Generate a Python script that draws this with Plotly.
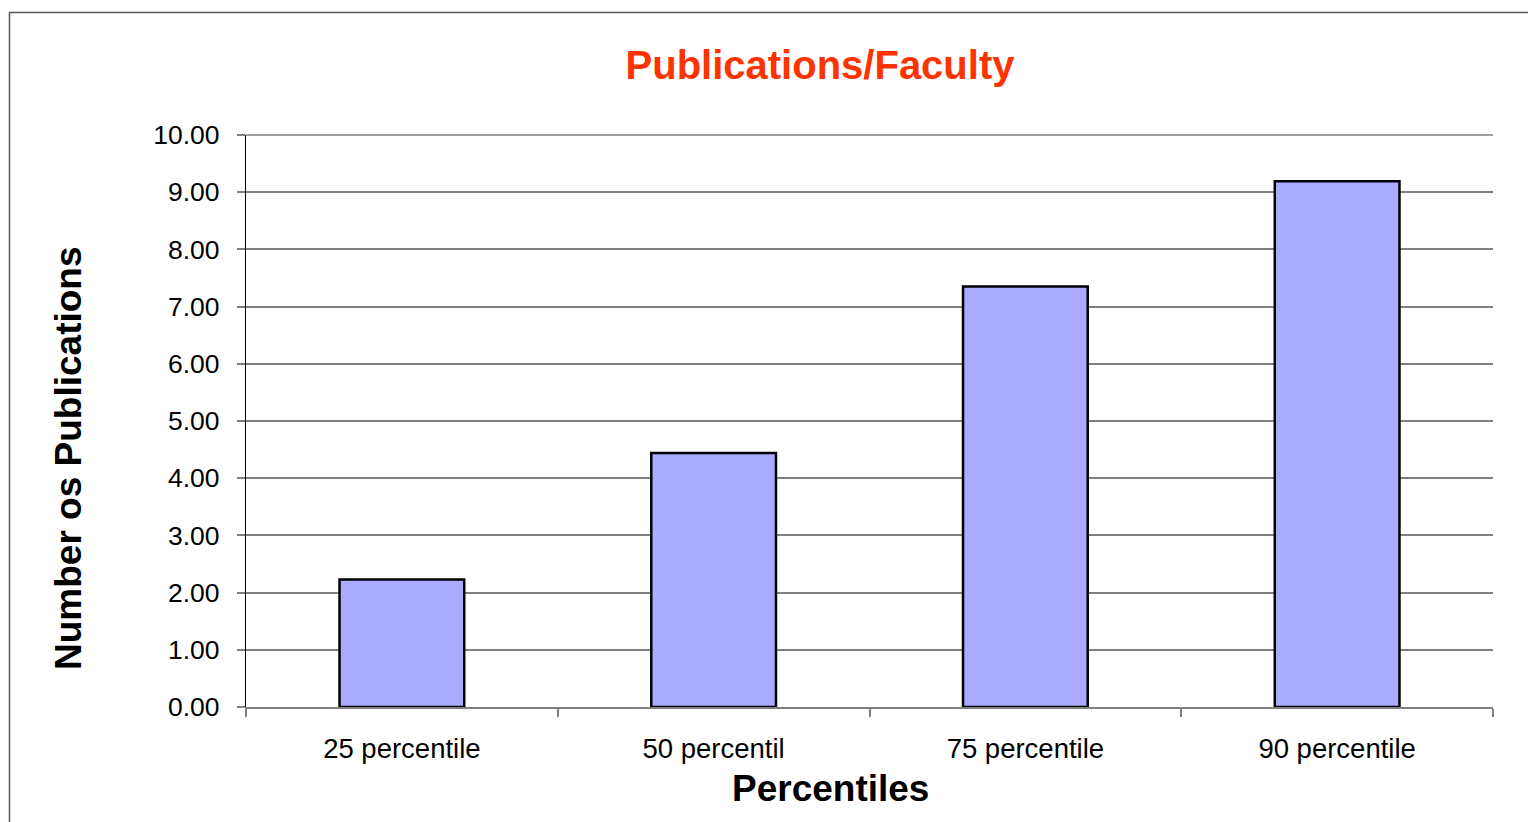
import plotly.graph_objects as go

categories = ["25 percentile", "50 percentil", "75 percentile", "90 percentile"]
values = [2.23, 4.44, 7.35, 9.19]
y_ticks = [0, 1, 2, 3, 4, 5, 6, 7, 8, 9, 10]
y_tick_labels = ["%.2f" % v for v in y_ticks]

W, H = 1528, 822
L, R, T, B = 246, 35, 135, 115
pw, ph = W - L - R, H - T - B

def px2paper_x(px):
    return (px - L) / pw

def px2paper_y(py):
    return (H - B - py) / ph

FONT = "Liberation Sans, Arial, sans-serif"

fig = go.Figure()
fig.add_trace(go.Bar(
    x=categories, y=values, width=0.4,
    marker=dict(color="#AAAAFF", line=dict(color="black", width=2.5)),
))

fig.update_layout(
    width=W, height=H,
    margin=dict(l=L, r=R, t=T, b=B, pad=0),
    paper_bgcolor="white", plot_bgcolor="white",
    showlegend=False,
    font=dict(family=FONT, color="black", size=26),
    title=dict(text="<b>Publications/Faculty</b>", x=820 / W, xanchor="center",
               xref="container", y=1 - 65 / H, yanchor="middle", yref="container",
               font=dict(family=FONT, size=40, color="#FF3300")),
    xaxis=dict(range=[-0.5, 3.5], tickson="boundaries", ticks="outside", ticklen=8,
               tickcolor="#808080", tickwidth=1.5, showline=True, linecolor="#808080",
               linewidth=1.5, showgrid=False, zeroline=False, ticklabelstandoff=16,
               tickfont=dict(size=27.5, family=FONT, color="black")),
    yaxis=dict(range=[y_ticks[0], y_ticks[-1]], tickvals=y_ticks, ticktext=y_tick_labels,
               ticks="outside", ticklen=8, tickcolor="#808080", tickwidth=1.5,
               showline=True, linecolor="black", linewidth=1.2, showgrid=True,
               gridcolor="#808080", gridwidth=1.5, zeroline=False, ticklabelstandoff=12,
               tickfont=dict(size=26.5, family=FONT, color="black")),
    annotations=[
        dict(text="<b>Percentiles</b>", x=px2paper_x(830), y=px2paper_y(788),
             xref="paper", yref="paper", xanchor="center", yanchor="middle",
             showarrow=False, font=dict(size=37, family=FONT, color="black")),
        dict(text="<b>Number os Publications</b>", x=px2paper_x(68), y=px2paper_y(458),
             xref="paper", yref="paper", xanchor="center", yanchor="middle",
             textangle=-90, showarrow=False,
             font=dict(size=37, family=FONT, color="black")),
    ],
    shapes=[
        dict(type="rect", xref="paper", yref="paper",
             x0=px2paper_x(9.5), x1=px2paper_x(W + 20),
             y0=px2paper_y(H + 20), y1=px2paper_y(12.5),
             line=dict(color="#555555", width=1.5), layer="below"),
        # top gridline (plotly drops the gridline at the range edge)
        dict(type="line", xref="paper", yref="paper", x0=0, x1=1, y0=1, y1=1,
             line=dict(color="#808080", width=1.5), layer="below"),
    ],
)

fig.write_html("out.html", config={"displayModeBar": False},
               post_script="document.body.style.margin='0';document.body.style.overflow='hidden';")
